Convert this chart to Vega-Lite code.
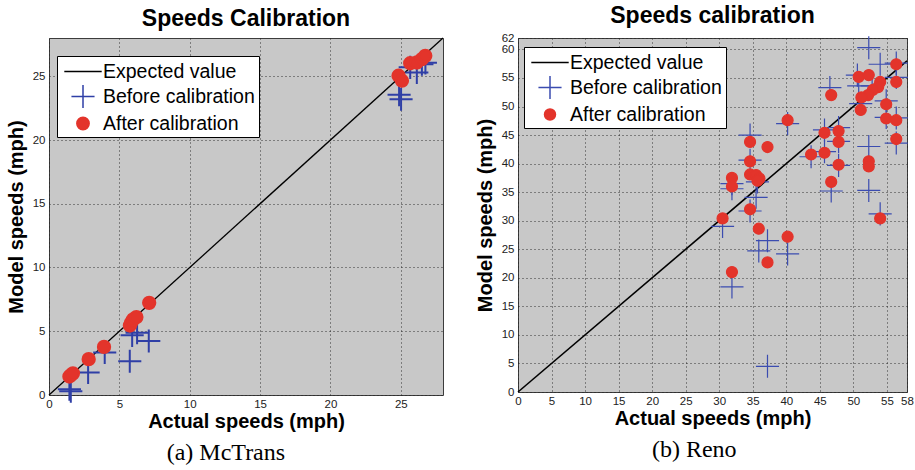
{
  "$schema": "https://vega.github.io/schema/vega-lite/v6.json",
  "padding": {"left": 5, "top": 4, "right": 2, "bottom": 2},
  "background": "white",
  "config": {
    "view": {"fill": "#c8c8c8", "stroke": "#3c3c3c", "strokeWidth": 1},
    "axis": {
      "labelFont": "Liberation Sans", "labelFontSize": 11.5, "labelColor": "#222",
      "titleFont": "Liberation Sans", "titleFontSize": 20, "titleFontWeight": "bold", "titleColor": "#000",
      "domain": false, "ticks": false, "labelPadding": 3, "titlePadding": 2,
      "grid": true, "gridColor": "#222", "gridDash": [1, 3], "gridWidth": 1, "gridOpacity": 0.9,
      "labelOverlap": false, "labelFlush": false
    },
    "axisY": {"titlePadding": 6, "labelPadding": 4},
    "legend": {
      "fillColor": "#ffffff", "strokeColor": "#000000", "padding": 3.5, "cornerRadius": 0,
      "labelFont": "Liberation Sans", "labelFontSize": 19.5, "labelColor": "#000",
      "symbolSize": 484, "symbolStrokeWidth": 1.5, "rowPadding": 0,
      "symbolOffset": 10.5, "labelOffset": 8
    },
    "title": {"font": "Liberation Sans", "fontWeight": "bold", "fontSize": 23, "color": "#000"}
  },
  "spacing": 27,
  "resolve": {
    "scale": {"x": "independent", "y": "independent", "stroke": "independent", "fill": "independent", "shape": "independent"},
    "legend": {"stroke": "independent", "fill": "independent", "shape": "independent"}
  },
  "hconcat": [
    {
      "title": {"text": "(a) McTrans", "orient": "bottom", "frame": "bounds", "anchor": "middle", "font": "Liberation Serif", "fontWeight": "normal", "fontSize": 24, "offset": 9},
      "resolve": {
        "scale": {"x": "independent", "y": "independent", "stroke": "independent", "fill": "independent", "shape": "independent"},
        "legend": {"stroke": "independent", "fill": "independent", "shape": "independent"}
      },
      "vconcat": [
        {
          "width": 394,
          "height": 357,
          "title": {"text": "Speeds Calibration", "frame": "group", "offset": 4},
          "encoding": {
            "x": {"field": "x", "type": "quantitative", "scale": {"domain": [0, 28], "nice": false, "zero": false}, "axis": {"values": [0, 5, 10, 15, 20, 25], "title": "Actual speeds (mph)", "labelOverlap": false}},
            "y": {"field": "y", "type": "quantitative", "scale": {"domain": [0, 28], "nice": false, "zero": false}, "axis": {"values": [0, 5, 10, 15, 20, 25], "title": "Model speeds (mph)", "labelOverlap": false}}
          },
          "layer": [
            {
              "data": {"values": [{"x": 0, "y": 0}, {"x": 28, "y": 28}]},
              "mark": {"type": "line", "color": "#000000", "strokeWidth": 1.3}
            },
            {
              "data": {"values": [
                {"x": 1.45, "y": 0.45, "series": "Before calibration"},
                {"x": 1.55, "y": 0.3, "series": "Before calibration"},
                {"x": 2.78, "y": 1.77, "series": "Before calibration"},
                {"x": 3.96, "y": 3.33, "series": "Before calibration"},
                {"x": 5.74, "y": 2.65, "series": "Before calibration"},
                {"x": 5.91, "y": 4.68, "series": "Before calibration"},
                {"x": 6.26, "y": 4.88, "series": "Before calibration"},
                {"x": 7.09, "y": 4.24, "series": "Before calibration"},
                {"x": 24.88, "y": 23.55, "series": "Before calibration"},
                {"x": 25.02, "y": 23.2, "series": "Before calibration"},
                {"x": 25.67, "y": 25.7, "series": "Before calibration"},
                {"x": 26.14, "y": 25.3, "series": "Before calibration"},
                {"x": 26.5, "y": 25.95, "series": "Before calibration"},
                {"x": 26.75, "y": 26.05, "series": "Before calibration"},
                {"x": 1.45, "y": 1.45, "series": "After calibration"},
                {"x": 1.55, "y": 1.55, "series": "After calibration"},
                {"x": 1.7, "y": 1.7, "series": "After calibration"},
                {"x": 2.82, "y": 2.81, "series": "After calibration"},
                {"x": 3.91, "y": 3.77, "series": "After calibration"},
                {"x": 5.75, "y": 5.45, "series": "After calibration"},
                {"x": 5.85, "y": 5.7, "series": "After calibration"},
                {"x": 5.98, "y": 5.93, "series": "After calibration"},
                {"x": 6.21, "y": 6.11, "series": "After calibration"},
                {"x": 7.12, "y": 7.23, "series": "After calibration"},
                {"x": 24.84, "y": 25.04, "series": "After calibration"},
                {"x": 25.08, "y": 24.65, "series": "After calibration"},
                {"x": 25.67, "y": 26.02, "series": "After calibration"},
                {"x": 26.14, "y": 26.08, "series": "After calibration"},
                {"x": 26.5, "y": 26.34, "series": "After calibration"},
                {"x": 26.74, "y": 26.6, "series": "After calibration"}
              ]},
              "mark": {"type": "point", "size": 484, "strokeWidth": 2, "opacity": 1},
              "encoding": {
                "shape": {"field": "series", "type": "nominal", "scale": {"domain": ["Expected value", "Before calibration", "After calibration"], "range": ["M-1.7,0L1.7,0", "M-1.05,0L1.05,0M0,-1.05L0,1.05", "M-0.56,0A0.56,0.56,0,1,1,0.56,0A0.56,0.56,0,1,1,-0.56,0Z"]}, "legend": {"title": null, "orient": "none", "legendX": 8, "legendY": 18}},
                "stroke": {"field": "series", "type": "nominal", "scale": {"domain": ["Expected value", "Before calibration", "After calibration"], "range": ["#000000", "#2f3fa6", "#e3342b"]}, "legend": {"title": null, "orient": "none", "legendX": 8, "legendY": 18}},
                "fill": {"field": "series", "type": "nominal", "scale": {"domain": ["Expected value", "Before calibration", "After calibration"], "range": ["#000000", "#2f3fa6", "#e3342b"]}, "legend": {"title": null, "orient": "none", "legendX": 8, "legendY": 18}}
              }
            }
          ]
        }
      ]
    },
    {
      "title": {"text": "(b) Reno", "orient": "bottom", "frame": "bounds", "anchor": "middle", "font": "Liberation Serif", "fontWeight": "normal", "fontSize": 24, "offset": 9},
      "resolve": {
        "scale": {"x": "independent", "y": "independent", "stroke": "independent", "fill": "independent", "shape": "independent"},
        "legend": {"stroke": "independent", "fill": "independent", "shape": "independent"}
      },
      "vconcat": [
        {
          "width": 389,
          "height": 354,
          "title": {"text": "Speeds calibration", "frame": "group", "offset": 4},
          "encoding": {
            "x": {"field": "x", "type": "quantitative", "scale": {"domain": [0, 58], "nice": false, "zero": false}, "axis": {"values": [0, 5, 10, 15, 20, 25, 30, 35, 40, 45, 50, 55, 58], "title": "Actual speeds (mph)", "labelOverlap": false}},
            "y": {"field": "y", "type": "quantitative", "scale": {"domain": [0, 62], "nice": false, "zero": false}, "axis": {"values": [0, 5, 10, 15, 20, 25, 30, 35, 40, 45, 50, 55, 60, 62], "title": "Model speeds (mph)", "labelOverlap": false}}
          },
          "layer": [
            {
              "data": {"values": [{"x": 0, "y": 0}, {"x": 58, "y": 58}]},
              "mark": {"type": "line", "color": "#000000", "strokeWidth": 1.6}
            },
            {
              "data": {"values": [
                {"x": 52.3, "y": 60.3, "series": "Before calibration"},
                {"x": 54.0, "y": 57.4, "series": "Before calibration"},
                {"x": 56.4, "y": 57.6, "series": "Before calibration"},
                {"x": 50.6, "y": 55.5, "series": "Before calibration"},
                {"x": 56.4, "y": 55.1, "series": "Before calibration"},
                {"x": 46.5, "y": 53.3, "series": "Before calibration"},
                {"x": 50.8, "y": 53.6, "series": "Before calibration"},
                {"x": 52.8, "y": 53.6, "series": "Before calibration"},
                {"x": 51.1, "y": 50.5, "series": "Before calibration"},
                {"x": 54.9, "y": 51.0, "series": "Before calibration"},
                {"x": 54.9, "y": 48.1, "series": "Before calibration"},
                {"x": 56.4, "y": 48.0, "series": "Before calibration"},
                {"x": 40.2, "y": 47.0, "series": "Before calibration"},
                {"x": 45.7, "y": 45.9, "series": "Before calibration"},
                {"x": 47.8, "y": 46.3, "series": "Before calibration"},
                {"x": 47.8, "y": 43.9, "series": "Before calibration"},
                {"x": 52.3, "y": 43.0, "series": "Before calibration"},
                {"x": 56.4, "y": 43.6, "series": "Before calibration"},
                {"x": 43.7, "y": 41.2, "series": "Before calibration"},
                {"x": 45.7, "y": 42.1, "series": "Before calibration"},
                {"x": 47.8, "y": 39.7, "series": "Before calibration"},
                {"x": 46.7, "y": 35.2, "series": "Before calibration"},
                {"x": 52.3, "y": 35.3, "series": "Before calibration"},
                {"x": 54.0, "y": 31.2, "series": "Before calibration"},
                {"x": 34.6, "y": 45.0, "series": "Before calibration"},
                {"x": 34.6, "y": 40.6, "series": "Before calibration"},
                {"x": 35.7, "y": 36.8, "series": "Before calibration"},
                {"x": 31.9, "y": 36.5, "series": "Before calibration"},
                {"x": 31.9, "y": 35.6, "series": "Before calibration"},
                {"x": 35.5, "y": 34.1, "series": "Before calibration"},
                {"x": 34.6, "y": 31.7, "series": "Before calibration"},
                {"x": 30.5, "y": 29.0, "series": "Before calibration"},
                {"x": 37.2, "y": 26.5, "series": "Before calibration"},
                {"x": 35.9, "y": 24.7, "series": "Before calibration"},
                {"x": 40.2, "y": 24.2, "series": "Before calibration"},
                {"x": 31.9, "y": 18.4, "series": "Before calibration"},
                {"x": 37.2, "y": 4.5, "series": "Before calibration"},
                {"x": 56.4, "y": 57.4, "series": "After calibration"},
                {"x": 56.4, "y": 54.3, "series": "After calibration"},
                {"x": 50.8, "y": 55.2, "series": "After calibration"},
                {"x": 52.3, "y": 55.5, "series": "After calibration"},
                {"x": 54.0, "y": 54.3, "series": "After calibration"},
                {"x": 53.7, "y": 53.4, "series": "After calibration"},
                {"x": 52.9, "y": 52.9, "series": "After calibration"},
                {"x": 52.2, "y": 52.0, "series": "After calibration"},
                {"x": 51.2, "y": 51.6, "series": "After calibration"},
                {"x": 46.7, "y": 52.0, "series": "After calibration"},
                {"x": 51.1, "y": 49.4, "series": "After calibration"},
                {"x": 54.9, "y": 50.4, "series": "After calibration"},
                {"x": 54.9, "y": 47.9, "series": "After calibration"},
                {"x": 56.4, "y": 47.6, "series": "After calibration"},
                {"x": 56.4, "y": 44.3, "series": "After calibration"},
                {"x": 40.2, "y": 47.6, "series": "After calibration"},
                {"x": 45.7, "y": 45.4, "series": "After calibration"},
                {"x": 47.8, "y": 45.7, "series": "After calibration"},
                {"x": 47.8, "y": 43.8, "series": "After calibration"},
                {"x": 43.7, "y": 41.6, "series": "After calibration"},
                {"x": 45.7, "y": 41.9, "series": "After calibration"},
                {"x": 47.8, "y": 39.8, "series": "After calibration"},
                {"x": 52.3, "y": 40.4, "series": "After calibration"},
                {"x": 52.3, "y": 39.5, "series": "After calibration"},
                {"x": 46.7, "y": 36.8, "series": "After calibration"},
                {"x": 54.0, "y": 30.4, "series": "After calibration"},
                {"x": 34.6, "y": 43.8, "series": "After calibration"},
                {"x": 37.2, "y": 42.9, "series": "After calibration"},
                {"x": 34.6, "y": 40.4, "series": "After calibration"},
                {"x": 34.6, "y": 38.1, "series": "After calibration"},
                {"x": 35.5, "y": 38.0, "series": "After calibration"},
                {"x": 36.0, "y": 37.4, "series": "After calibration"},
                {"x": 35.7, "y": 37.0, "series": "After calibration"},
                {"x": 31.9, "y": 37.5, "series": "After calibration"},
                {"x": 31.9, "y": 36.0, "series": "After calibration"},
                {"x": 34.6, "y": 32.0, "series": "After calibration"},
                {"x": 30.5, "y": 30.4, "series": "After calibration"},
                {"x": 35.9, "y": 28.6, "series": "After calibration"},
                {"x": 40.2, "y": 27.2, "series": "After calibration"},
                {"x": 37.2, "y": 22.7, "series": "After calibration"},
                {"x": 31.9, "y": 21.0, "series": "After calibration"}
              ]},
              "mark": {"type": "point", "size": 484, "strokeWidth": 1.2, "opacity": 1},
              "encoding": {
                "shape": {"field": "series", "type": "nominal", "scale": {"domain": ["Expected value", "Before calibration", "After calibration"], "range": ["M-1.7,0L1.7,0", "M-1.05,0L1.05,0M0,-1.05L0,1.05", "M-0.5,0A0.5,0.5,0,1,1,0.5,0A0.5,0.5,0,1,1,-0.5,0Z"]}, "legend": {"title": null, "orient": "none", "legendX": 6, "legendY": 9}},
                "stroke": {"field": "series", "type": "nominal", "scale": {"domain": ["Expected value", "Before calibration", "After calibration"], "range": ["#000000", "#3b4cb0", "#e3342b"]}, "legend": {"title": null, "orient": "none", "legendX": 6, "legendY": 9}},
                "fill": {"field": "series", "type": "nominal", "scale": {"domain": ["Expected value", "Before calibration", "After calibration"], "range": ["#000000", "#3b4cb0", "#e3342b"]}, "legend": {"title": null, "orient": "none", "legendX": 6, "legendY": 9}}
              }
            }
          ]
        }
      ]
    }
  ]
}
